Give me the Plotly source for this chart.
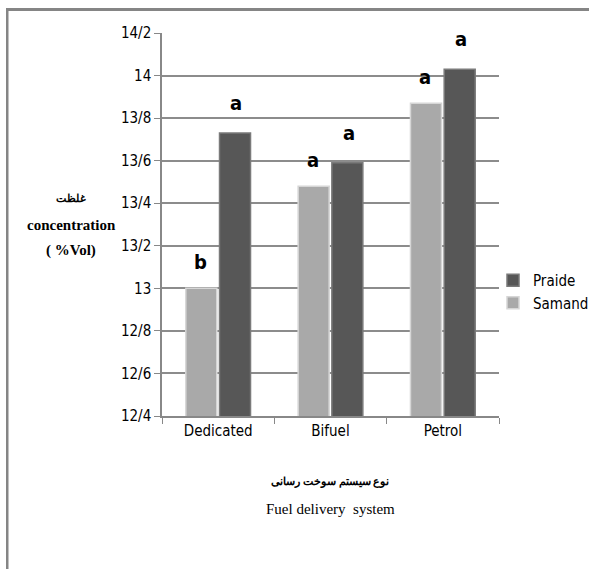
import plotly.graph_objects as go

categories = ["Dedicated", "Bifuel", "Petrol"]
samand = [13.0, 13.48, 13.87]
praide = [13.73, 13.59, 14.03]
samand_letters = ["b", "a", "a"]
praide_letters = ["a", "a", "a"]
tick_vals = [12.4, 12.6, 12.8, 13.0, 13.2, 13.4, 13.6, 13.8, 14.0, 14.2]
tick_text = ["12/4", "12/6", "12/8", "13", "13/2", "13/4", "13/6", "13/8", "14", "14/2"]

W, H = 589, 569
L, R, T, B = 162, 499, 33, 416


def px(x):
    return (x - L) / (R - L)


def py(y):
    return (B - y) / (B - T)


narrow = "DejaVu Sans Condensed, Liberation Sans Narrow, Arial Narrow, sans-serif"
serif = "Liberation Serif, Times New Roman, serif"

fig = go.Figure()
fig.add_trace(go.Bar(
    x=categories, y=samand, name="Samand",
    marker=dict(color="#a9a9a9", line=dict(color="#d6d6d6", width=1.5)),
))
fig.add_trace(go.Bar(
    x=categories, y=praide, name="Praide",
    marker=dict(color="#575757", line=dict(color="#7a7a7a", width=1.5)),
))

for i, c in enumerate(categories):
    fig.add_annotation(x=c, y=samand[i], text="<b>%s</b>" % samand_letters[i],
                       xshift=-18, yshift=26, showarrow=False,
                       font=dict(family=narrow, size=20, color="black"))
    fig.add_annotation(x=c, y=praide[i], text="<b>%s</b>" % praide_letters[i],
                       xshift=18, yshift=30, showarrow=False,
                       font=dict(family=narrow, size=20, color="black"))

# axis titles
ann_common = dict(xref="paper", yref="paper", showarrow=False, xanchor="center", yanchor="middle")
fig.add_annotation(x=px(71), y=py(198), text="<b>غلظت</b>",
                   font=dict(family=serif, size=11, color="black"), **ann_common)
fig.add_annotation(x=px(71), y=py(225), text="<b>concentration</b>",
                   font=dict(family=serif, size=15, color="black"), **ann_common)
fig.add_annotation(x=px(71), y=py(250), text="<b>( %Vol)</b>",
                   font=dict(family=serif, size=15, color="black"), **ann_common)
fig.add_annotation(x=px(330), y=py(481), text="<b>نوع سیستم سوخت رسانی</b>",
                   font=dict(family=serif, size=11, color="black"), **ann_common)
fig.add_annotation(x=px(330), y=py(509), text="Fuel delivery  system",
                   font=dict(family=serif, size=15, color="black"), **ann_common)

# outer frame: left edge as a figure shape
fig.add_shape(type="rect", xref="paper", yref="paper",
              x0=px(6), y0=py(569), x1=px(8.5), y1=py(8),
              fillcolor="#858585", line=dict(width=0), layer="above")

fig.update_layout(
    width=W, height=H,
    margin=dict(l=L, r=W - R, t=T, b=H - B, autoexpand=False),
    paper_bgcolor="white", plot_bgcolor="white",
    barmode="group", bargap=0.4, bargroupgap=0.08,
    showlegend=True,
    legend=dict(x=px(493), y=py(264), xanchor="left", yanchor="top",
                traceorder="reversed", font=dict(family=narrow, size=15, color="black"),
                itemwidth=30, tracegroupgap=14, bgcolor="rgba(0,0,0,0)"),
    xaxis=dict(showline=True, linecolor="#888", linewidth=1.5, ticks="outside",
               tickson="boundaries", ticklen=6, tickcolor="#888",
               tickfont=dict(family=narrow, size=15, color="black"), showgrid=False),
    yaxis=dict(range=[12.4, 14.2], tickvals=tick_vals, ticktext=tick_text,
               showline=True, linecolor="#888", linewidth=1.5, ticks="outside",
               ticklen=6, tickcolor="#888", showgrid=True, gridcolor="#8c8c8c", gridwidth=1.5,
               tickfont=dict(family=narrow, size=15, color="black"), zeroline=False),
)

post = (
    "document.body.style.margin='0';document.body.style.overflow='hidden';"
    "var fr=document.createElement('div');"
    "fr.style.cssText='position:fixed;left:6px;top:8px;width:700px;height:3px;"
    "background:#858585;pointer-events:none;z-index:1000;';"
    "document.body.appendChild(fr);"
)
fig.write_html("out.html", config={"displayModeBar": False}, post_script=post)
